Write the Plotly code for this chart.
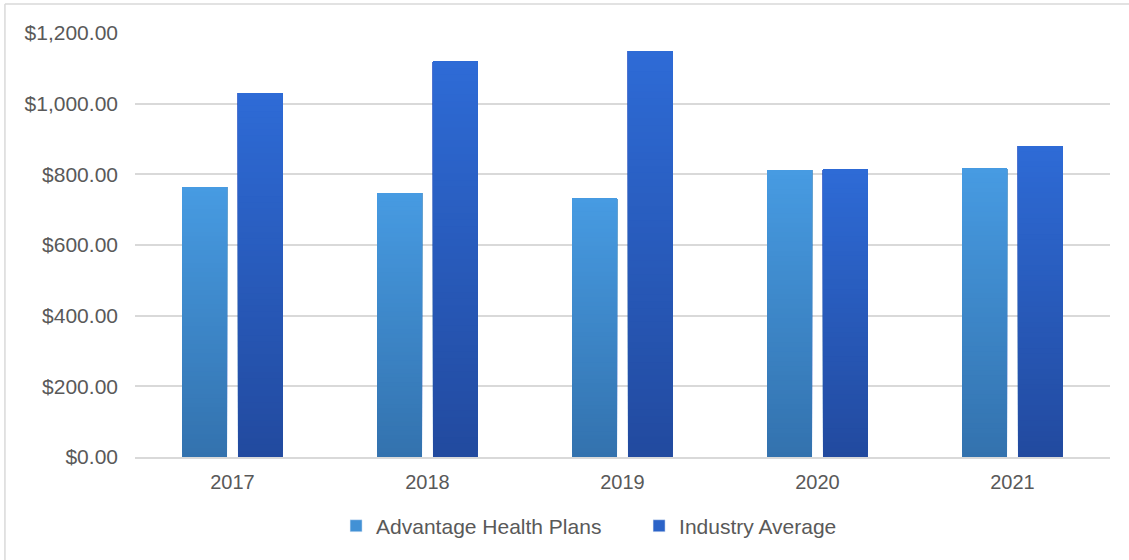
import plotly.graph_objects as go

# Annual cost per member, by year
years = ["2017", "2018", "2019", "2020", "2021"]
advantage = [764, 747, 732, 812, 817]
industry = [1030, 1119, 1149, 814, 880]

series_names = ["Advantage Health Plans", "Industry Average"]

# Vertical gradient for each series: (bottom colour, top colour)
gradients = {
    "Advantage Health Plans": ((0x33, 0x72, 0xAE), (0x47, 0x9B, 0xE2)),
    "Industry Average": ((0x22, 0x4A, 0x9F), (0x2E, 0x6B, 0xD6)),
}

N_SEG = 60


def mix(c0, c1, t):
    r, g, b = (round(a + (b_ - a) * t) for a, b_ in zip(c0, c1))
    return f"rgb({r},{g},{b})"


fig = go.Figure()

for name, values in zip(series_names, [advantage, industry]):
    c_bot, c_top = gradients[name]
    # Each bar is painted as overlapping layers, each one starting a bit
    # higher and running to the top of the bar, so the fill fades from
    # dark at the base to light at the top without seams.
    for k in range(N_SEG):
        t = (k + 0.5) / N_SEG
        fig.add_trace(
            go.Bar(
                x=years,
                y=[v * (N_SEG - k) / N_SEG for v in values],
                base=[v * k / N_SEG for v in values],
                offsetgroup=name,
                legendgroup=name,
                name=name,
                showlegend=False,
                marker=dict(color=mix(c_bot, c_top, t), line=dict(width=0)),
                hoverinfo="skip",
            )
        )
    # transparent full bar carrying the hover label
    fig.add_trace(
        go.Bar(
            x=years,
            y=values,
            offsetgroup=name,
            legendgroup=name,
            name=name,
            marker=dict(color=mix(c_bot, c_top, 0.75), opacity=0),
            hovertemplate="%{x}: $%{y:,.2f}<extra>" + name + "</extra>",
            showlegend=False,
        )
    )
    # legend entry
    fig.add_trace(
        go.Bar(
            x=[None],
            y=[None],
            name=name,
            legendgroup=name,
            marker=dict(color=mix(c_bot, c_top, 0.75)),
            showlegend=True,
        )
    )

grid = "#d9d9d9"
text_col = "#595959"

fig.update_layout(
    width=1129,
    height=560,
    barmode="group",
    bargap=0.426,
    bargroupgap=0.196,
    plot_bgcolor="white",
    paper_bgcolor="white",
    margin=dict(l=135, r=19, t=33, b=103),
    font=dict(family="Liberation Sans, Arial, sans-serif", size=21, color=text_col),
    showlegend=True,
    legend=dict(
        orientation="h",
        x=0.517,
        xanchor="center",
        y=-0.163,
        yanchor="middle",
        font=dict(size=21, color=text_col),
        traceorder="normal",
        entrywidth=258,
        entrywidthmode="pixels",
        itemclick=False,
    ),
    xaxis=dict(
        type="category",
        showgrid=False,
        showline=True,
        linecolor=grid,
        linewidth=1.5,
        ticks="",
        ticklabelstandoff=6,
        tickfont=dict(size=20, color=text_col),
    ),
    yaxis=dict(
        range=[0, 1200],
        dtick=200,
        tickformat="$,.2f",
        showgrid=True,
        gridcolor=grid,
        gridwidth=1.5,
        zeroline=False,
        showline=False,
        ticks="",
        ticklabelstandoff=16,
        tickfont=dict(size=21, color=text_col),
    ),
    shapes=[
        # chart frame: top and left edges
        dict(type="line", xref="paper", yref="paper",
             x0=-0.1334, x1=1.02, y0=1.0684, y1=1.0684,
             line=dict(color=grid, width=1.5)),
        dict(type="line", xref="paper", yref="paper",
             x0=-0.1334, x1=-0.1334, y0=1.0684, y1=-0.25,
             line=dict(color=grid, width=1.5)),
    ],
)

fig.write_html("out.html")
